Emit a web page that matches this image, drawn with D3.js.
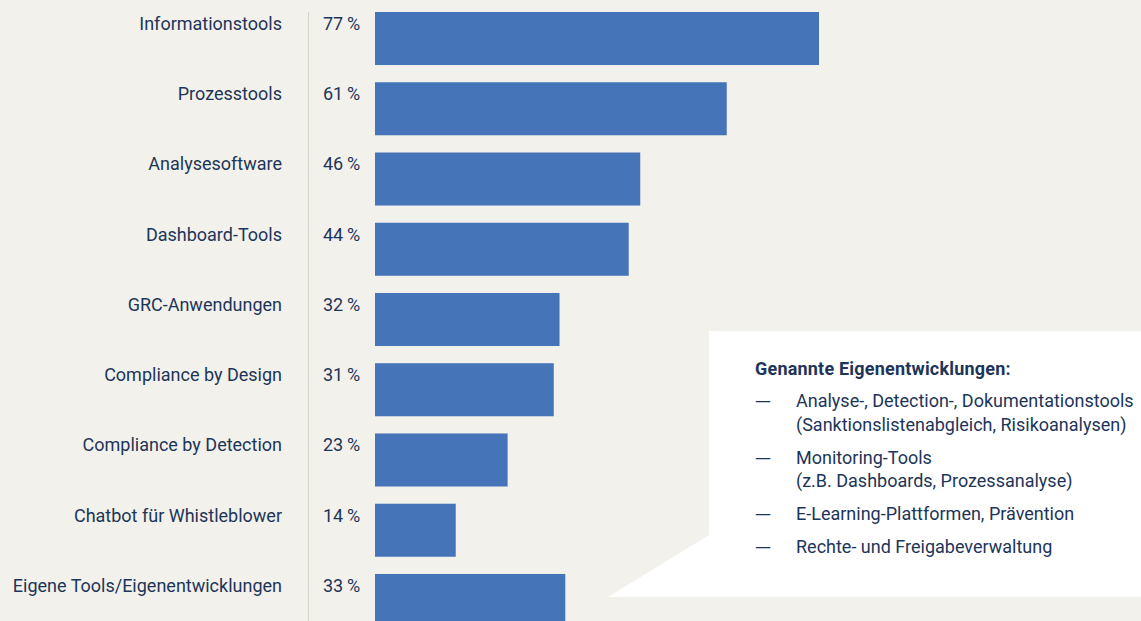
<!DOCTYPE html>
<html>
<head>
<meta charset="utf-8">
<script src="https://cdn.jsdelivr.net/npm/d3@7"></script>
<style>
  html,body{margin:0;padding:0;background:#f3f1eb;overflow:hidden;}
  svg{display:block;font-family:Roboto,"Noto Sans",sans-serif;}
</style>
</head>
<body>
<div id="chart"></div>
<script>
const categories = [
  "Informationstools","Prozesstools","Analysesoftware","Dashboard-Tools",
  "GRC-Anwendungen","Compliance by Design","Compliance by Detection",
  "Chatbot für Whistleblower","Eigene Tools/Eigenentwicklungen"
];
const values = [77,61,46,44,32,31,23,14,33];
const calloutTitle = "Genannte Eigenentwicklungen:";
const calloutItems = [
  ["Analyse-, Detection-, Dokumentationstools","(Sanktionslistenabgleich, Risikoanalysen)"],
  ["Monitoring-Tools","(z.B. Dashboards, Prozessanalyse)"],
  ["E-Learning-Plattformen, Prävention"],
  ["Rechte- und Freigabeverwaltung"]
];

(function(){
  const W=1141,H=621;
  const TEXT='#1d3558', BAR='#4674b9';
  const svg=d3.select('#chart').append('svg').attr('width',W).attr('height',H);
  svg.append('rect').attr('width',W).attr('height',H).attr('fill','#f3f1eb');

  const x=d3.scaleLinear().domain([0,77]).range([375,819]);
  const y=d3.scaleBand().domain(categories).range([12,627]).paddingInner(0.245);

  // Trennlinie
  svg.append('line').attr('x1',308.5).attr('x2',308.5).attr('y1',12).attr('y2',H)
    .attr('stroke','#d9d5c9').attr('stroke-width',1.2);

  const rows=svg.selectAll('g.row').data(categories.map((c,i)=>({name:c,value:values[i]})))
    .enter().append('g').attr('class','row')
    .attr('transform',d=>`translate(0,${y(d.name)})`);

  rows.append('rect').attr('x',x(0)).attr('height',y.bandwidth())
    .attr('width',d=>x(d.value)-x(0)).attr('fill',BAR);

  rows.append('text').attr('x',282).attr('y',18).attr('text-anchor','end')
    .attr('fill',TEXT).style('font-size','18px').text(d=>d.name);

  rows.append('text').attr('x',323).attr('y',18)
    .attr('fill',TEXT).style('font-size','18px').text(d=>d.value+'\u2009%');

  // Callout-Box mit Spitze
  svg.append('path')
    .attr('d','M709,331 L1141,331 L1141,597 L608,597 L709,535 Z')
    .attr('fill','#ffffff');

  svg.append('text').attr('x',755).attr('y',375).attr('fill',TEXT)
    .style('font-size','18px').style('font-weight','bold')
    .style('letter-spacing','0.2px').text(calloutTitle);

  let yy=407;
  calloutItems.forEach(lines=>{
    svg.append('text').attr('x',755).attr('y',yy-1).attr('fill',TEXT)
      .style('font-family','"DejaVu Sans"').style('font-size','16px').text('—');
    lines.forEach((l,j)=>{
      svg.append('text').attr('x',796).attr('y',yy+j*23.5).attr('fill',TEXT)
        .style('font-size','18px').text(l);
    });
    yy+= (lines.length-1)*23.5 + 33;
  });
})();
</script>
</body>
</html>
